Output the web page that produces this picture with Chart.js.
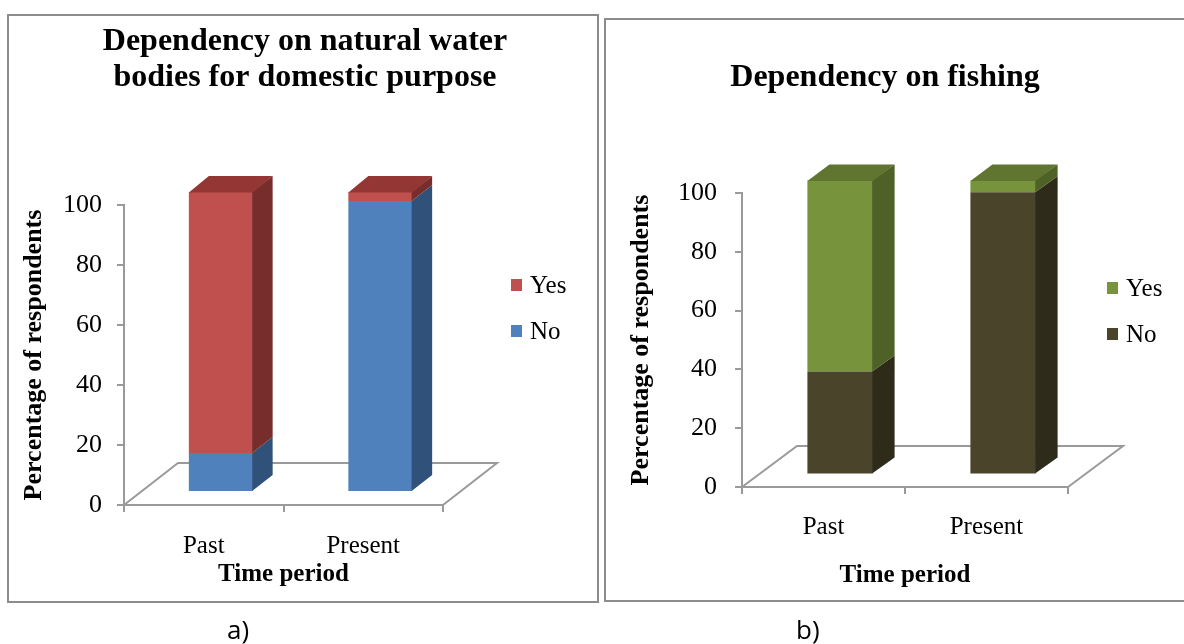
<!DOCTYPE html>
<html>
<head>
<meta charset="utf-8">
<script src="https://cdn.jsdelivr.net/npm/chart.js@4.4.1/dist/chart.umd.min.js"></script>
<style>
  body { margin: 0; background: #fff; width: 1184px; height: 644px; overflow: hidden; position: relative; }
  .panel { position: absolute; border: 2px solid #8c8c8c; box-sizing: border-box; }
  canvas { position: absolute; top: 0; }
  .cap { position: absolute; top: 611px; font-family: 'Open Sans', sans-serif; font-size: 26px; color: #000; }
</style>
</head>
<body>
<div class="panel" style="left:7px;top:14px;width:592px;height:589px"></div>
<div class="panel" style="left:604px;top:18px;width:600px;height:584px"></div>
<canvas id="chartA" width="594" height="644" style="left:8px"></canvas>
<canvas id="chartB" width="558" height="644" style="left:606px"></canvas>
<div class="cap" style="left:227px">a)</div>
<div class="cap" style="left:796px">b)</div>
<script>
var categories = ['Past', 'Present'];
var waterNo = [13, 97];
var waterYes = [87, 3];
var fishingNo = [35, 96];
var fishingYes = [65, 4];
var yTicks = [0, 20, 40, 60, 80, 100];

var serif = "'Liberation Serif', 'Times New Roman', serif";
var gray = '#9a9a9a';

// fake 3D look: floor, shifted front faces, side and top faces
var bars3d = {
  id: 'bars3d',
  beforeDatasetsDraw: function(chart, args, opts) {
    var ctx = chart.ctx, a = chart.chartArea;
    ctx.save();
    ctx.strokeStyle = gray;
    ctx.lineWidth = 2;
    ctx.beginPath();
    ctx.moveTo(a.left, a.bottom);
    ctx.lineTo(a.left + opts.floor[0], a.bottom + opts.floor[1]);
    ctx.lineTo(a.right + opts.floor[0], a.bottom + opts.floor[1]);
    ctx.lineTo(a.right, a.bottom);
    ctx.stroke();
    ctx.restore();
    ctx.save();
    ctx.translate((opts.floor[0] - opts.depth[0]) / 2, (opts.floor[1] - opts.depth[1]) / 2);
  },
  afterDatasetsDraw: function(chart, args, opts) {
    var ctx = chart.ctx;
    ctx.restore();
    var ox = (opts.floor[0] - opts.depth[0]) / 2, oy = (opts.floor[1] - opts.depth[1]) / 2;
    var dx = opts.depth[0], dy = opts.depth[1];
    chart.data.labels.forEach(function(lbl, i) {
      var top = null;
      chart.data.datasets.forEach(function(ds, k) {
        if (!ds.data[i]) return;
        var bar = chart.getDatasetMeta(k).data[i];
        var l = bar.x - bar.width / 2 + ox, r = bar.x + bar.width / 2 + ox;
        var t = bar.y + oy, b = bar.base + oy;
        ctx.fillStyle = opts.side[k];
        ctx.beginPath();
        ctx.moveTo(r - 0.5, t);
        ctx.lineTo(r + dx, t + dy);
        ctx.lineTo(r + dx, b + dy);
        ctx.lineTo(r - 0.5, b);
        ctx.closePath();
        ctx.fill();
        top = { l: l, r: r, t: t, k: k };
      });
      if (top) {
        ctx.fillStyle = opts.top[top.k];
        ctx.beginPath();
        ctx.moveTo(top.l, top.t + 0.5);
        ctx.lineTo(top.l + dx, top.t + dy);
        ctx.lineTo(top.r + dx, top.t + dy);
        ctx.lineTo(top.r, top.t + 0.5);
        ctx.closePath();
        ctx.fill();
      }
    });
  },
  afterDraw: function(chart, args, opts) {
    var ctx = chart.ctx, a = chart.chartArea, lg = opts.legend;
    var ds = chart.data.datasets;
    ctx.save();
    ctx.font = '25px ' + serif;
    ctx.textBaseline = 'middle';
    for (var n = 0; n < ds.length; n++) {
      var item = ds[ds.length - 1 - n];
      var x = a.right + lg.x, y = a.top + lg.y + n * lg.gap;
      ctx.fillStyle = item.backgroundColor;
      ctx.fillRect(x, y - 6, 11, 12);
      ctx.fillStyle = '#000';
      ctx.fillText(item.label, x + 19, y + 1);
    }
    ctx.restore();
  }
};

function makeChart(id, noData, yesData, s) {
  return new Chart(document.getElementById(id), {
    type: 'bar',
    data: {
      labels: categories,
      datasets: [
        { label: 'No', data: noData, backgroundColor: s.colors[0], barPercentage: 1, categoryPercentage: 0.4, clip: false },
        { label: 'Yes', data: yesData, backgroundColor: s.colors[1], barPercentage: 1, categoryPercentage: 0.4, clip: false }
      ]
    },
    options: {
      responsive: false,
      animation: false,
      layout: { padding: 0 },
      scales: {
        x: {
          stacked: true,
          grid: { drawOnChartArea: false, drawTicks: true, tickLength: 7, color: gray, lineWidth: 2 },
          border: { color: gray, width: 2 },
          ticks: { color: '#000', font: { family: serif, size: 25 }, padding: s.xTickPad, maxRotation: 0 },
          title: { display: true, text: 'Time period', color: '#000',
                   font: { family: serif, size: 25, weight: 'bold' }, padding: { top: 0, bottom: s.xTitlePad } },
          afterFit: function(sc) { sc.height = s.xHeight; }
        },
        y: {
          stacked: true,
          min: 0,
          max: 100,
          afterBuildTicks: function(sc) { sc.ticks = yTicks.map(function(v) { return { value: v }; }); },
          grid: { drawOnChartArea: false, drawTicks: true, tickLength: 7, color: gray, lineWidth: 2 },
          border: { color: gray, width: 2 },
          ticks: { color: '#000', font: { family: serif, size: 26 }, padding: s.yTickPad },
          title: { display: true, text: 'Percentage of respondents', color: '#000',
                   font: { family: serif, size: 26, weight: 'bold' }, padding: { top: s.yTitlePad, bottom: 0 } },
          afterFit: function(sc) { sc.width = s.yWidth; }
        },
        pad: {
          type: 'linear', axis: 'y', position: 'right', display: true,
          grid: { display: false }, border: { display: false }, ticks: { display: false },
          afterFit: function(sc) { sc.width = s.padRight; }
        }
      },
      plugins: {
        legend: { display: false },
        tooltip: { enabled: false },
        title: {
          display: true, text: s.title, color: '#000',
          font: { family: serif, size: 32, weight: 'bold', lineHeight: 1.15 },
          padding: { top: s.titleTop, bottom: s.titleBottom }
        },
        bars3d: s.bars3d
      }
    },
    plugins: [bars3d]
  });
}

makeChart('chartA', waterNo, waterYes, {
  colors: ['#4F81BD', '#C0504D'],
  title: ['Dependency on natural water', 'bodies for domestic purpose'],
  titleTop: 23, titleBottom: 108.4,
  yWidth: 116, padRight: 159, xHeight: 139,
  xTickPad: 19, xTitlePad: 54, yTickPad: 15, yTitlePad: 10.4,
  bars3d: { floor: [54, -42], depth: [20, -16],
            side: ['#30517A', '#772D2B'], top: ['#3F6797', '#943634'],
            legend: { x: 68, y: 80, gap: 46 } }
});

makeChart('chartB', fishingNo, fishingYes, {
  colors: ['#4A452A', '#77933C'],
  title: 'Dependency on fishing',
  titleTop: 59, titleBottom: 97.2,
  yWidth: 136, padRight: 96, xHeight: 157,
  xTickPad: 18, xTitlePad: 53, yTickPad: 18, yTitlePad: 19.4,
  bars3d: { floor: [55, -41], depth: [22, -16],
            side: ['#2E2B1A', '#4E6127'], top: ['#3C3822', '#5F7530'],
            legend: { x: 39, y: 95, gap: 46 } }
});
</script>
</body>
</html>
